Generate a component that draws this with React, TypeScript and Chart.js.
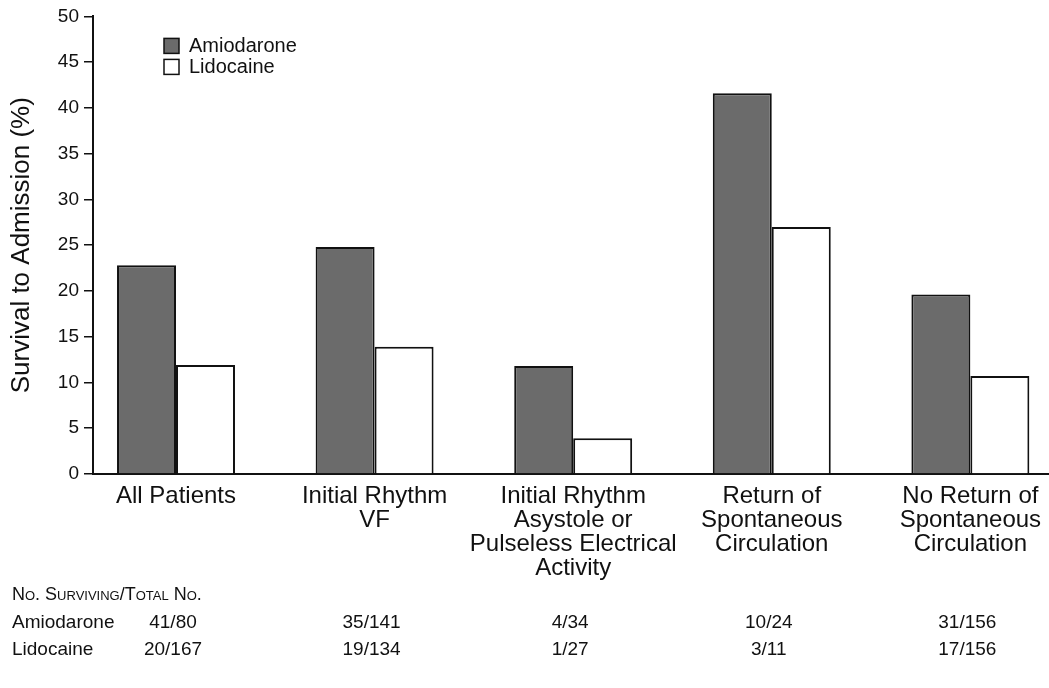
import React, { useEffect, useRef } from "react";
import { Chart, registerables } from "chart.js";

Chart.register(...registerables);

const categories: (string | string[])[] = [
  "All Patients",
  ["Initial Rhythm", "VF"],
  ["Initial Rhythm", "Asystole or", "Pulseless Electrical", "Activity"],
  ["Return of", "Spontaneous", "Circulation"],
  ["No Return of", "Spontaneous", "Circulation"],
];
const amiodarone = [22.8, 24.8, 11.8, 41.6, 19.6];
const lidocaine = [11.9, 13.9, 3.9, 27.0, 10.7];
const amiodaroneCounts = ["41/80", "35/141", "4/34", "10/24", "31/156"];
const lidocaineCounts = ["20/167", "19/134", "1/27", "3/11", "17/156"];
const seriesNames = ["Amiodarone", "Lidocaine"];
const tableHeader = "No. Surviving/Total No.";
const yTitle = "Survival to Admission (%)";

const FONT = "'Liberation Sans', Arial, Helvetica, sans-serif";
const AMIO_FILL = "#6b6b6b";
const LIDO_FILL = "#ffffff";
const INK = "#111111";

const overlayPlugin = {
  id: "overlay",
  afterDraw(chart: any) {
    const { ctx, chartArea } = chart;
    const xs = chart.scales.x;
    ctx.save();
    // legend
    const fills = [AMIO_FILL, LIDO_FILL];
    seriesNames.forEach((name, i) => {
      const bx = chartArea.left + 71;
      const cy = chartArea.top + 29 + i * 21;
      ctx.fillStyle = fills[i];
      ctx.fillRect(bx, cy - 7, 15, 15);
      ctx.strokeStyle = INK;
      ctx.lineWidth = 1.5;
      ctx.strokeRect(bx, cy - 7, 15, 15);
      ctx.fillStyle = INK;
      ctx.font = `20px ${FONT}`;
      ctx.textAlign = "left";
      ctx.textBaseline = "middle";
      ctx.fillText(name, bx + 25, cy + 1);
    });
    // table
    ctx.fillStyle = INK;
    ctx.textBaseline = "middle";
    ctx.textAlign = "left";
    ctx.font = `small-caps 18px ${FONT}`;
    ctx.fillText(tableHeader, 12, 595);
    ctx.font = `19px ${FONT}`;
    const rows = [amiodaroneCounts, lidocaineCounts];
    rows.forEach((row, r) => {
      const y = 623 + r * 27;
      ctx.textAlign = "left";
      ctx.fillText(seriesNames[r], 12, y);
      ctx.textAlign = "center";
      row.forEach((txt, i) => {
        ctx.fillText(txt, xs.getPixelForValue(i) - 3, y);
      });
    });
    ctx.restore();
  },
};

export default function App() {
  const ref = useRef<HTMLCanvasElement | null>(null);
  useEffect(() => {
    if (!ref.current) return;
    const chart = new Chart(ref.current, {
      type: "bar",
      data: {
        datasets: [
          {
            label: seriesNames[0],
            data: amiodarone.map((v, i) => ({ x: i, y: v })),
            backgroundColor: AMIO_FILL,
            borderColor: INK,
            borderWidth: 2,
          },
          {
            label: seriesNames[1],
            data: lidocaine.map((v, i) => ({ x: i, y: v })),
            backgroundColor: LIDO_FILL,
            borderColor: INK,
            borderWidth: 2,
          },
        ],
      },
      options: {
        responsive: false,
        animation: false,
        layout: { padding: { top: 16, left: 0, right: 0, bottom: 0 } },
        datasets: {
          bar: { categoryPercentage: 0.594, barPercentage: 1.0 },
        },
        plugins: {
          legend: { display: false },
          tooltip: { enabled: false },
        },
        scales: {
          x: {
            type: "linear",
            offset: false,
            min: -0.418,
            max: 4.396,
            afterBuildTicks: (s: any) => {
              s.ticks = categories.map((_, i) => ({ value: i }));
            },
            afterFit: (s: any) => {
              s.height = 214;
              s.paddingLeft = 0;
              s.paddingRight = 0;
            },
            grid: { display: false, drawTicks: false, offset: false },
            border: { display: true, color: INK, width: 2 },
            ticks: {
              autoSkip: false,
              maxRotation: 0,
              minRotation: 0,
              padding: 10,
              color: INK,
              font: { family: FONT, size: 24, lineHeight: 1.0 },
              callback: (v: any) => categories[Math.round(Number(v))] as any,
            },
          },
          y: {
            min: 0,
            max: 50,
            afterFit: (s: any) => {
              s.width = 93;
            },
            grid: {
              drawOnChartArea: false,
              drawTicks: true,
              tickLength: 9,
              color: INK,
              lineWidth: 1.5,
            },
            border: { display: true, color: INK, width: 2 },
            ticks: {
              stepSize: 5,
              padding: 5,
              color: INK,
              font: { family: FONT, size: 19 },
            },
            title: {
              display: true,
              text: yTitle,
              color: INK,
              padding: { top: 6, bottom: 0 },
              font: { family: FONT, size: 26 },
            },
          },
        },
      },
      plugins: [overlayPlugin],
    } as any);
    return () => chart.destroy();
  }, []);
  return (
    <div style={{ position: "fixed", left: 0, top: 0, width: 1049, height: 688, background: "#fff" }}>
      <canvas ref={ref} width={1049} height={688} style={{ display: "block" }} />
    </div>
  );
}
